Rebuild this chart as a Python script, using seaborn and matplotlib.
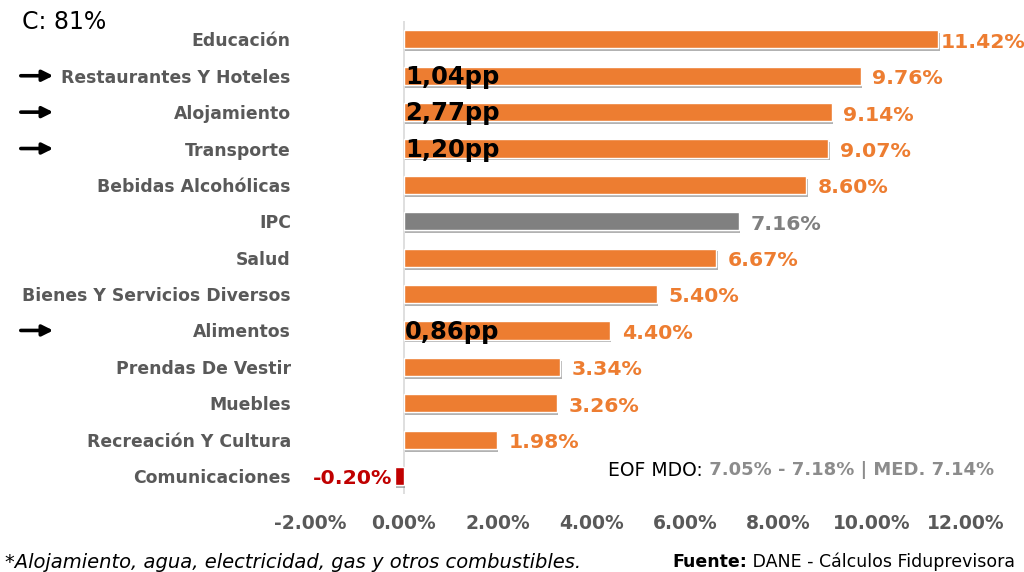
import matplotlib
matplotlib.use("Agg")
import matplotlib.pyplot as plt
import matplotlib.patheffects as pe
import seaborn as sns
import pandas as pd

categories = ["Educación", "Restaurantes Y Hoteles", "Alojamiento", "Transporte",
              "Bebidas Alcohólicas", "IPC", "Salud", "Bienes Y Servicios Diversos",
              "Alimentos", "Prendas De Vestir", "Muebles", "Recreación Y Cultura",
              "Comunicaciones"]
values = [11.42, 9.76, 9.14, 9.07, 8.60, 7.16, 6.67, 5.40, 4.40, 3.34, 3.26, 1.98, -0.20]
contrib_cats = ["Restaurantes Y Hoteles", "Alojamiento", "Transporte", "Alimentos"]
contrib_labels = ["1,04pp", "2,77pp", "1,20pp", "0,86pp"]
x_ticks = [-2, 0, 2, 4, 6, 8, 10, 12]

ORANGE = "#ED7D31"
GRAY = "#808080"
RED = "#C00000"
colors = {c: (GRAY if c == "IPC" else RED if v < 0 else ORANGE) for c, v in zip(categories, values)}

sns.set_theme(style="white")
plt.rcParams['font.family'] = ['DejaVu Sans']

df = pd.DataFrame({"cat": categories, "val": values})

fig = plt.figure(figsize=(10.24, 5.72), dpi=100)
ax = fig.add_axes([0.303, 0.136, 0.640, 0.827])
sns.barplot(data=df, x="val", y="cat", hue="cat", palette=colors, order=categories,
            orient="h", width=0.5, legend=False, ax=ax, saturation=1)
for p in ax.patches:
    p.set_path_effects([pe.SimplePatchShadow(offset=(1, -2), shadow_rgbFace="#7F7F7F", alpha=0.6),
                        pe.Normal()])

ax.set_xlim(-2, 12)
ax.set_ylim(len(categories) - 0.5, -0.5)
for s in ax.spines.values():
    s.set_visible(False)
ax.axvline(0, color="#D9D9D9", lw=1.2, zorder=0)
ax.set_xlabel("")
ax.set_ylabel("")
ax.set_xticks(x_ticks)
ax.set_xticklabels([f"{t:.2f}%" for t in x_ticks], fontsize=13.5, fontweight="bold", color="#595959")
ax.tick_params(axis="x", pad=14, length=0)
ax.tick_params(axis="y", pad=14, length=0)
for lbl in ax.get_yticklabels():
    lbl.set_fontsize(12.4)
    lbl.set_fontweight("bold")
    lbl.set_color("#595959")

# value labels
for i, (c, v) in enumerate(zip(categories, values)):
    col = colors[c]
    if v >= 0:
        ax.text(min(v + 0.25, 11.47), i + 0.08, f"{v:.2f}%", ha="left", va="center",
                fontsize=14.7, fontweight="bold", color=col)
    else:
        ax.text(v - 0.04, i + 0.08, f"{v:.2f}%", ha="right", va="center", fontsize=14.7,
                fontweight="bold", color=col)

# contribution labels + arrows
for c, lab in zip(contrib_cats, contrib_labels):
    i = categories.index(c)
    ax.text(0.02, i + 0.03, lab, ha="left", va="center", fontsize=17.5,
            fontweight="bold", color="black")
    ax.annotate("", xy=(56 / 1024, i), xycoords=("figure fraction", "data"),
                xytext=(18 / 1024, i), textcoords=("figure fraction", "data"),
                arrowprops=dict(arrowstyle="-|>", color="black", lw=2.6,
                                mutation_scale=16))

fig.text(22 / 1024, 1 - 22 / 572, "C: 81%", fontsize=17, color="black", va="center", ha="left")

t1 = fig.text(608 / 1024, 1 - 470 / 572, "EOF MDO:", fontsize=13.5, color="black",
              va="center", ha="left")
ax.annotate(" 7.05% - 7.18% | MED. 7.14%", xy=(1, 0.5), xycoords=t1, va="center", ha="left",
            fontsize=13, color="#8C8C8C", fontweight="bold")

fig.text(5 / 1024, 1 - 563 / 572, "*Alojamiento, agua, electricidad, gas y otros combustibles.",
         fontsize=14, style="italic", color="black", va="center", ha="left")
t2 = fig.text(672 / 1024, 1 - 562 / 572, "Fuente:", fontsize=12.5, fontweight="bold",
              color="black", va="center", ha="left")
ax.annotate(" DANE - Cálculos Fiduprevisora", xy=(1, 0.5), xycoords=t2, va="center", ha="left",
            fontsize=12.5, color="black")

fig.savefig("out.png", dpi=100)
